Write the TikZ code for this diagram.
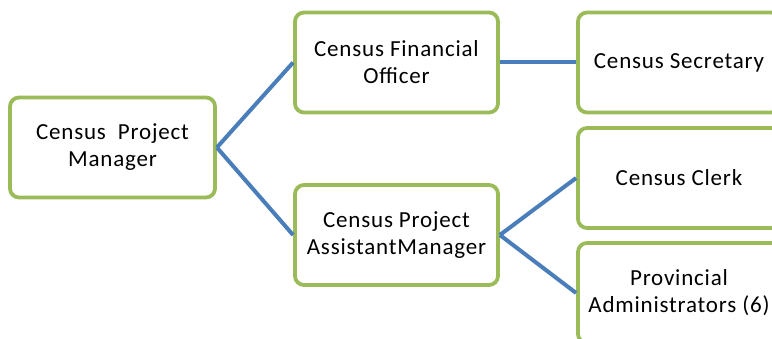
\documentclass[tikz,border=0pt]{standalone}
\usepackage{fontspec}
\setmainfont{Carlito}[LetterSpace=3.5]
\definecolor{boxgreen}{HTML}{9BBB59}
\definecolor{lineblue}{HTML}{4A7EBB}
\begin{document}
\begin{tikzpicture}[x=1pt,y=-1pt,
  box/.style={draw=boxgreen, line width=3.8pt, rounded corners=9pt, fill=white,
    minimum width=#1, minimum height=100pt, inner sep=0pt, align=center,
    font=\fontsize{23}{27}\selectfont, text=black},
  box/.default=203pt,
  link/.style={draw=lineblue, line width=4pt}]
\useasboundingbox (0,0) rectangle (772,339);
\clip (0,0) rectangle (772,339);
\node[box=205pt] (mgr) at (112.5,147.5) {Census\ \ Project\\Manager};
\node[box] (fin) at (396.5,62.5) {Census Financial\\Officer};
\node[box] (asst) at (396.5,235) {Census Project\\AssistantManager};
\node[box=202pt] (sec) at (679,62.5) {Census Secretary};
\node[box=202pt] (clerk) at (679,178) {Census Clerk};
\node[box=202pt] (prov) at (679,293) {Provincial\\Administrators (6)};
\draw[link] (mgr.east) -- (fin.west);
\draw[link] (mgr.east) -- (asst.west);
\draw[link] (fin.east) -- (sec.west);
\draw[link] (asst.east) -- (clerk.west);
\draw[link] (asst.east) -- (prov.west);
\end{tikzpicture}
\end{document}
